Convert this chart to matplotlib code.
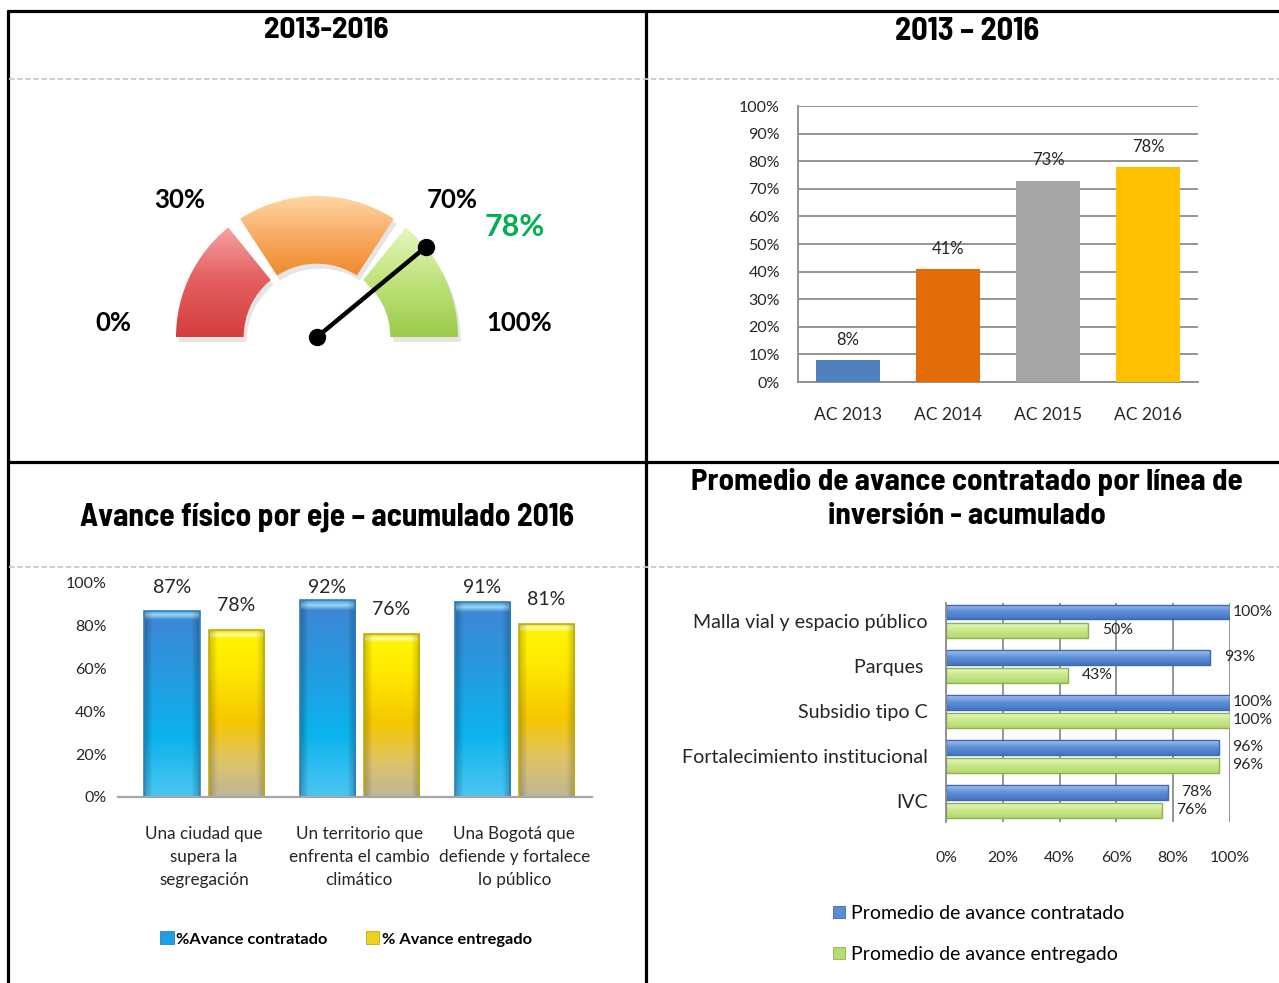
import os
import numpy as np
import matplotlib
matplotlib.use('Agg')
import matplotlib.pyplot as plt
from matplotlib import font_manager as fm
from matplotlib.patches import Wedge, Rectangle
from matplotlib.colors import LinearSegmentedColormap

# ---------------- data ----------------
gauge_title = "2013-2016"
gauge_bands = [0, 30, 70, 100]
gauge_band_labels = ['0%', '30%', '70%', '100%']
gauge_value = 78

bar_title = "2013 – 2016"
years = ['AC 2013', 'AC 2014', 'AC 2015', 'AC 2016']
year_values = [8, 41, 73, 78]

eje_title = "Avance físico por eje – acumulado 2016"
ejes = ['Una ciudad que\nsupera la\nsegregación',
        'Un territorio que\nenfrenta el cambio\nclimático',
        'Una Bogotá que\ndefiende y fortalece\nlo público']
eje_contratado = [87, 92, 91]
eje_entregado = [78, 76, 81]
eje_series = ['%Avance contratado', '% Avance entregado']

linea_title = "Promedio de avance contratado por línea de\ninversión - acumulado"
lineas = ['Malla vial y espacio público', 'Parques ', 'Subsidio tipo C',
          'Fortalecimiento institucional', 'IVC']
linea_contratado = [100, 93, 100, 96, 78]
linea_entregado = [50, 43, 100, 96, 76]
linea_series = ['Promedio de avance contratado', 'Promedio de avance entregado']

# ---------------- setup ----------------
W, H = 1279, 983
fig = plt.figure(figsize=(W / 100, H / 100), dpi=100)
BODY = ['Lato', 'DejaVu Sans']


def is_bold(f):
    w = f.weight if isinstance(f.weight, int) else fm.weight_dict.get(f.weight, 400)
    b = os.path.basename(f.fname).lower()
    return (w >= 700 or 'bold' in b) and 'extrabold' not in b and 'semibold' not in b


def pick_title_font():
    """Choose the bold narrow face whose width best matches an Arial Narrow Bold title."""
    cands = []
    for f in fm.fontManager.ttflist:
        b = os.path.basename(f.fname).lower()
        if ('italic' in b or 'oblique' in b or 'italic' in str(f.style)
                or not is_bold(f) or 'mono' in b):
            continue
        if f.name == 'Liberation Sans Narrow' or 'narrow' in b or 'condensed' in b:
            cands.append(fm.FontProperties(fname=f.fname))
    if not cands:
        return fm.FontProperties(family=['Liberation Sans', 'DejaVu Sans'], weight='bold')
    r = fig.canvas.get_renderer()
    best, err = cands[0], 1e9
    for fp in cands:
        t = fig.text(0, 0, eje_title, fontproperties=fp, fontsize=23)
        try:
            w = t.get_window_extent(r).width
        except Exception:
            w = 1e9
        t.remove()
        if abs(w - 494) < err:
            best, err = fp, abs(w - 494)
    return best


TFP = pick_title_font()


def px_axes(x0, y0, x1, y1):
    ax = fig.add_axes([x0 / W, 1 - y1 / H, (x1 - x0) / W, (y1 - y0) / H])
    ax.patch.set_alpha(0)
    return ax


def grad_colors(colors, stops, n=256):
    cmap = LinearSegmentedColormap.from_list('g', list(zip(stops, colors)))
    return cmap(np.linspace(0, 1, n))[:, :3]


def fill_gradient(ax, patch, colors, stops, edge_dark=0.0, z=2):
    bb = patch.get_path().get_extents(patch.get_patch_transform())
    col = grad_colors(colors, stops)
    m = 64
    img = np.repeat(col[:, None, :], m, axis=1)
    if edge_dark:
        xs = np.abs(np.linspace(-1, 1, m))
        f = 1 - edge_dark * np.clip((xs - 0.7) / 0.3, 0, 1)
        img = img * f[None, :, None]
    im = ax.imshow(img, extent=(bb.x0, bb.x1, bb.y0, bb.y1), origin='lower',
                   aspect='auto', zorder=z, interpolation='bilinear')
    im.set_clip_path(patch)
    patch.set_facecolor('none')
    patch.set_zorder(z + 0.1)
    return im


# ---------------- background grid / frames ----------------
bg = fig.add_axes([0, 0, 1, 1], zorder=-10)
bg.set_xlim(0, W)
bg.set_ylim(H, 0)
bg.axis('off')
blk = dict(color='black', lw=2.3, solid_capstyle='butt')
bg.plot([7, W], [11, 11], **blk)
bg.plot([8, 8], [10, H], **blk)
bg.plot([646, 646], [10, H], **blk)
bg.plot([8, W], [462, 462], **blk)
dsh = dict(color='#C9C9C9', lw=1.3, ls=(0, (3, 1.5)))
bg.plot([9, W], [79, 79], **dsh)
bg.plot([9, W], [567, 567], **dsh)

titles = []
for txt, (x, y), tw in [(gauge_title, (326, 31), 125), (bar_title, (967, 31), 144),
                        (eje_title, (327, 517), 494), (linea_title, (967, 499), 552)]:
    t = bg.text(x, y, txt, fontproperties=TFP.copy(), ha='center', va='center',
                linespacing=1.32)
    t.set_fontsize(22)
    titles.append((t, tw))

fig.canvas.draw()
rend = fig.canvas.get_renderer()
for t, tw in titles:
    w = t.get_window_extent(rend).width
    t.set_fontsize(min(t.get_fontsize() * tw / w, 25))

# ---------------- panel 1: gauge ----------------
cx, cy, R = 317, 337, 141
gx0, gx1, gy0, gy1 = 60, 600, 120, 420
gax = px_axes(gx0, gy0, gx1, gy1)
gax.axis('off')

band_grads = [
    (['#D43E3E', '#E56262', '#F4A4A4'], [0, 0.55, 1]),
    (['#F0892C', '#F8AB63', '#FFD6A4'], [0, 0.5, 1]),
    (['#9CCB4A', '#BEE27A', '#E6F8BE'], [0, 0.5, 1]),
]
gap = 3.0
inner = 0.52


def ang(v):
    return 180 - 1.8 * v


for i in range(len(gauge_bands) - 1):
    t2 = ang(gauge_bands[i]) - (gap if i > 0 else 0)
    t1 = ang(gauge_bands[i + 1]) + (gap if i < len(gauge_bands) - 2 else 0)
    sh = Wedge((0.02, -0.035), 1.0, t1, t2, width=1 - inner,
               facecolor='#9A9A9A', edgecolor='none', alpha=0.25, zorder=1)
    gax.add_patch(sh)
    w = Wedge((0, 0), 1.0, t1, t2, width=1 - inner, edgecolor='none', lw=0)
    gax.add_patch(w)
    cols, stops = band_grads[i]
    fill_gradient(gax, w, cols, stops, z=2)

a = np.deg2rad(ang(gauge_value))
gax.plot([0, np.cos(a)], [0, np.sin(a)], color='black', lw=3.2, zorder=5,
         solid_capstyle='round')
gax.plot([0, np.cos(a)], [0, np.sin(a)], 'o', color='black', ms=11.5, zorder=6)
gax.set_xlim((gx0 - cx) / R, (gx1 - cx) / R)
gax.set_ylim((cy - gy1) / R, (cy - gy0) / R)

lab_pos = [(113, 323), (180, 200), (452, 200), (519, 323)]
for lab, (x, y) in zip(gauge_band_labels, lab_pos):
    bg.text(x, y, lab, family=BODY, weight='bold', fontsize=18.5, ha='center', va='center')
bg.text(515, 227, f'{gauge_value}%', family=BODY, weight='bold', fontsize=22,
        color='#00B050', ha='center', va='center')

# ---------------- panel 2: yearly bars ----------------
ax2 = px_axes(798, 106, 1198, 382)
x2 = np.arange(len(years))
v2 = np.array(year_values) / 100
ax2.bar(x2, v2, width=0.64, color=['#4F81BD', '#E36C09', '#A5A5A5', '#FFC000'], zorder=3)
for xi, vi in zip(x2, v2):
    ax2.annotate(f'{vi:.0%}', (xi, vi), xytext=(0, 14.5), textcoords='offset points',
                 ha='center', va='center', fontsize=12, family=BODY, color='#262626')
ax2.set_xlim(-0.5, len(years) - 0.5)
ax2.set_ylim(0, 1)
ax2.set_yticks(np.arange(0, 1.01, 0.1))
ax2.set_yticklabels([f'{t:.0%}' for t in np.arange(0, 1.01, 0.1)])
ax2.set_xticks(x2)
ax2.set_xticklabels(years)
ax2.grid(axis='y', color='#8C8C8C', lw=1.3, zorder=0)
ax2.set_axisbelow(True)
for s in ['top', 'right']:
    ax2.spines[s].set_visible(False)
for s in ['left', 'bottom']:
    ax2.spines[s].set_color('#8C8C8C')
    ax2.spines[s].set_linewidth(1.3)
ax2.tick_params(axis='y', length=0, pad=13, labelsize=11.5)
ax2.tick_params(axis='x', length=0, pad=18, labelsize=12.5)
for t in ax2.get_xticklabels() + ax2.get_yticklabels():
    t.set_family(BODY)
    t.set_color('#262626')

# ---------------- panel 3: grouped gradient bars ----------------
ax3 = px_axes(118, 583, 592, 797)
x3 = np.arange(len(ejes))
bw, off = 0.355, 0.207
c3 = np.array(eje_contratado) / 100
e3 = np.array(eje_entregado) / 100
b_c = ax3.bar(x3 - off, c3, width=bw, edgecolor='#2C7EC4', lw=1.2)
b_e = ax3.bar(x3 + off, e3, width=bw, edgecolor='#C2AE00', lw=1.2)
blue_g = (['#4CC6F1', '#0CB3EE', '#2A96DE', '#3D88D6', '#9AD6F3', '#4E9EDD'],
          [0, 0.32, 0.72, 0.95, 0.975, 1])
yel_g = (['#BFB797', '#DEC466', '#F6C700', '#FFEA00', '#FFF400', '#FFFAA8', '#EDE000'],
         [0, 0.22, 0.45, 0.78, 0.95, 0.975, 1])
for p in b_c:
    fill_gradient(ax3, p, *blue_g, edge_dark=0.25, z=2)
for p in b_e:
    fill_gradient(ax3, p, *yel_g, edge_dark=0.2, z=2)
for xs, vals in [(x3 - off, c3), (x3 + off, e3)]:
    for xi, vi in zip(xs, vals):
        ax3.text(xi, min(vi + 0.115, 0.98), f'{vi:.0%}', ha='center', va='center',
                 fontsize=14, family=BODY, color='#262626')
ax3.set_xlim(-0.555, 2.5)
ax3.set_ylim(0, 1)
ax3.set_yticks(np.arange(0, 1.01, 0.2))
ax3.set_yticklabels([f'{t:.0%}' for t in np.arange(0, 1.01, 0.2)])
ax3.set_xticks(x3)
ax3.set_xticklabels(ejes)
for s in ['top', 'right', 'left']:
    ax3.spines[s].set_visible(False)
ax3.spines['bottom'].set_color('#A6A6A6')
ax3.spines['bottom'].set_linewidth(1.6)
ax3.tick_params(axis='y', length=0, pad=8, labelsize=11.5)
ax3.tick_params(axis='x', length=0, pad=21, labelsize=12.3)
for t in ax3.get_xticklabels() + ax3.get_yticklabels():
    t.set_family(BODY)
    t.set_color('#262626')
for t in ax3.get_xticklabels():
    t.set_linespacing(1.55)

h3 = [Rectangle((0, 0), 1, 1, facecolor='#1E9FE2', edgecolor='#2C7EC4', lw=0.6),
      Rectangle((0, 0), 1, 1, facecolor='#EAD21E', edgecolor='#C2AE00', lw=0.6)]
fig.legend(h3, eje_series, loc='center', bbox_to_anchor=(346 / W, 1 - 939 / H),
           ncol=2, frameon=False, handlelength=0.85, handleheight=0.85,
           handletextpad=0.15, columnspacing=2.3,
           prop={'family': BODY, 'weight': 'bold', 'size': 11.8})

# ---------------- panel 4: horizontal bars ----------------
ax4 = px_axes(946, 603, 1230, 822)
n = len(lineas)
y4 = np.arange(n)[::-1].astype(float)
hc = np.array(linea_contratado) / 100
he = np.array(linea_entregado) / 100
bh = 0.33
r_c = ax4.barh(y4 + 0.2, hc, height=bh, edgecolor='#3A69B0', lw=1.0)
r_e = ax4.barh(y4 - 0.2, he, height=bh, edgecolor='#8DB34E', lw=1.0)
blue4 = (['#4575C0', '#5D8ED6', '#8FB1E8', '#BBD1F2'], [0, 0.5, 0.85, 1])
green4 = (['#B3D96B', '#C8E78C', '#DDF2AF', '#EEFACF'], [0, 0.5, 0.85, 1])
for p in r_c:
    fill_gradient(ax4, p, *blue4, z=2)
for p in r_e:
    fill_gradient(ax4, p, *green4, z=2)
for ys, vals in [(y4 + 0.2, hc), (y4 - 0.2, he)]:
    for yi, vi in zip(ys, vals):
        ax4.annotate(f'{vi:.0%}', (vi, yi), xytext=(2 if vi >= 1 else 10, 0),
                     textcoords='offset points', ha='left', va='center',
                     fontsize=11.3, family=BODY, color='#262626', zorder=6)
ax4.set_xlim(0, 1)
ax4.set_ylim(-0.455, 4.40)
ax4.set_xticks(np.arange(0, 1.01, 0.2))
ax4.set_xticklabels([f'{t:.0%}' for t in np.arange(0, 1.01, 0.2)])
ax4.set_yticks(y4)
ax4.set_yticklabels(lineas)
ax4.grid(axis='x', color='#8C8C8C', lw=1.3, zorder=0)
ax4.set_axisbelow(True)
for s in ['top', 'right', 'bottom']:
    ax4.spines[s].set_visible(False)
ax4.spines['left'].set_color('#8C8C8C')
ax4.spines['left'].set_linewidth(1.3)
ax4.tick_params(axis='y', length=0, pad=13, labelsize=14.1)
ax4.tick_params(axis='x', length=0, pad=21, labelsize=11.3)
for t in ax4.get_xticklabels() + ax4.get_yticklabels():
    t.set_family(BODY)
    t.set_color('#262626')

h4 = [Rectangle((0, 0), 1, 1, facecolor='#5B8BD3', edgecolor='#3A69B0', lw=0.6),
      Rectangle((0, 0), 1, 1, facecolor='#B5DB72', edgecolor='#8DB34E', lw=0.6)]
fig.legend(h4, linea_series, loc='center left', bbox_to_anchor=(816 / W, 1 - 934 / H),
           ncol=1, frameon=False, handlelength=0.6, handleheight=0.6,
           handletextpad=0.3, labelspacing=1.25,
           prop={'family': BODY, 'size': 14})

fig.savefig('out.png', dpi=100)
